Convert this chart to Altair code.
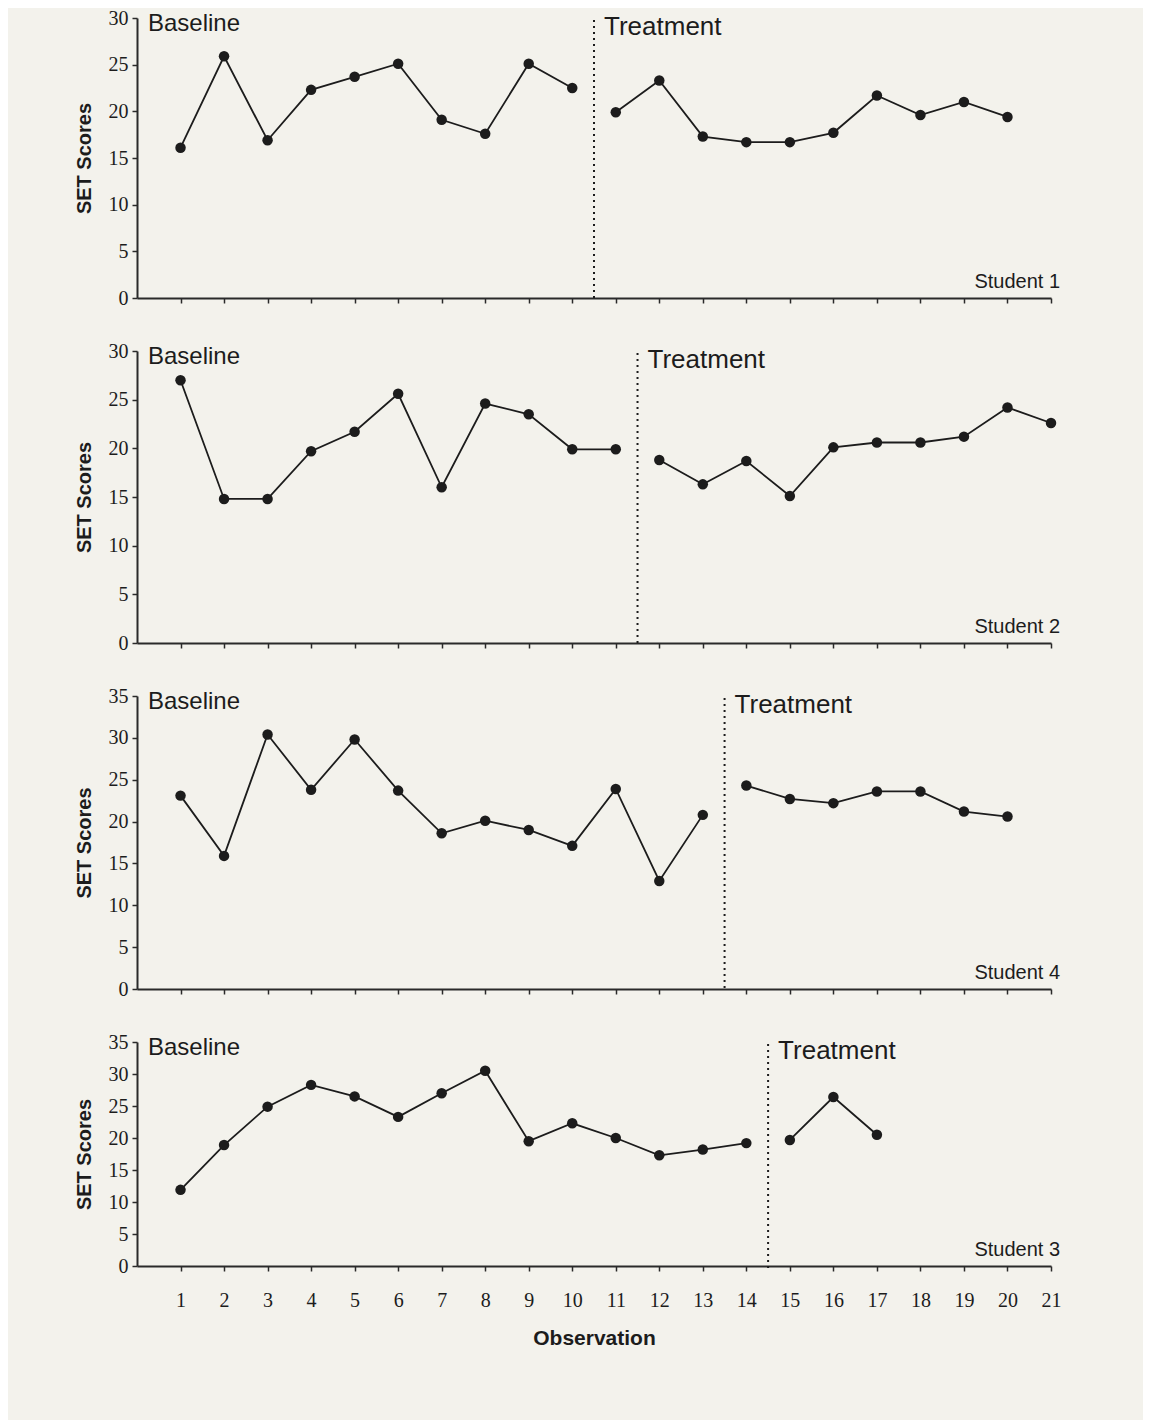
import altair as alt
import pandas as pd

# ---------------- data ----------------
obs_ticks = list(range(1, 22))

s1_base_obs = list(range(1, 11))
s1_base_val = [16.1, 25.9, 16.9, 22.3, 23.7, 25.1, 19.1, 17.6, 25.1, 22.5]
s1_treat_obs = list(range(11, 21))
s1_treat_val = [19.9, 23.3, 17.3, 16.7, 16.7, 17.7, 21.7, 19.6, 21.0, 19.4]

s2_base_obs = list(range(1, 12))
s2_base_val = [27.0, 14.8, 14.8, 19.7, 21.7, 25.6, 16.0, 24.6, 23.5, 19.9, 19.9]
s2_treat_obs = list(range(12, 22))
s2_treat_val = [18.8, 16.3, 18.7, 15.1, 20.1, 20.6, 20.6, 21.2, 24.2, 22.6]

s4_base_obs = list(range(1, 14))
s4_base_val = [23.1, 15.9, 30.4, 23.8, 29.8, 23.7, 18.6, 20.1, 19.0, 17.1, 23.9, 12.9, 20.8]
s4_treat_obs = list(range(14, 21))
s4_treat_val = [24.3, 22.7, 22.2, 23.6, 23.6, 21.2, 20.6]

s3_base_obs = list(range(1, 15))
s3_base_val = [11.9, 18.9, 24.9, 28.3, 26.5, 23.3, 27.0, 30.5, 19.5, 22.3, 20.0, 17.3, 18.2, 19.2]
s3_treat_obs = list(range(15, 18))
s3_treat_val = [19.7, 26.4, 20.5]

students = ["Student 1", "Student 2", "Student 4", "Student 3"]
phase_changes = [10.5, 11.5, 13.5, 14.5]
y_max = [30, 30, 35, 35]
panel_heights = [280, 292, 293, 224]
PANEL_W = 914

series = [
    (s1_base_obs, s1_base_val, s1_treat_obs, s1_treat_val),
    (s2_base_obs, s2_base_val, s2_treat_obs, s2_treat_val),
    (s4_base_obs, s4_base_val, s4_treat_obs, s4_treat_val),
    (s3_base_obs, s3_base_val, s3_treat_obs, s3_treat_val),
]

INK = "#1c1c1c"
SANS = "Liberation Sans"
SERIF = "Liberation Serif"


def make_df(bo, bv, to, tv):
    return pd.DataFrame({
        "obs": list(bo) + list(to),
        "score": list(bv) + list(tv),
        "phase": ["Baseline"] * len(bo) + ["Treatment"] * len(to),
    })


def panel(i, last):
    bo, bv, to, tv = series[i]
    df = make_df(bo, bv, to, tv)
    h = panel_heights[i]
    ym = y_max[i]
    xscale = alt.Scale(domain=[0, 21], nice=False, zero=False)
    yscale = alt.Scale(domain=[0, ym], nice=False)

    if last:
        xaxis = alt.Axis(values=obs_ticks, labelFont=SERIF, labelFontSize=20,
                         labelPadding=19, tickSize=5, titleFont=SANS,
                         titleFontSize=21, titleFontWeight="bold",
                         titlePadding=17, labelFlush=False, labelOverlap=False)
        xenc = alt.X("obs:Q", scale=xscale, axis=xaxis, title="Observation")
    else:
        xaxis = alt.Axis(values=obs_ticks, labels=False, tickSize=5)
        xenc = alt.X("obs:Q", scale=xscale, axis=xaxis, title=None)

    yaxis = alt.Axis(values=list(range(0, ym + 1, 5)), labelFont=SERIF,
                     labelFontSize=20, labelPadding=4, tickSize=5,
                     titleFont=SANS, titleFontSize=20, titleFontWeight="bold",
                     titlePadding=14, labelFlush=False, labelOverlap=False)
    yenc = alt.Y("score:Q", scale=yscale, axis=yaxis, title="SET Scores")

    base = alt.Chart(df).encode(x=xenc, y=yenc)
    lines = base.mark_line(color=INK, strokeWidth=1.8).encode(detail="phase:N")
    points = base.mark_point(filled=True, color=INK, size=110, opacity=1)

    rule = alt.Chart(pd.DataFrame({"p": [phase_changes[i]]})).mark_rule(
        color=INK, strokeWidth=2, strokeDash=[2, 4]).encode(
        x=alt.X("p:Q", scale=xscale, axis=xaxis), y=alt.value(2), y2=alt.value(h + 2))

    lbl = pd.DataFrame({"t": ["Baseline"]})
    baseline_txt = alt.Chart(lbl).mark_text(
        align="left", baseline="middle", font=SANS, fontSize=24, color=INK).encode(
        x=alt.value(11), y=alt.value(6), text="t:N")

    tr = pd.DataFrame({"t": ["Treatment"], "p": [phase_changes[i]]})
    treat_txt = alt.Chart(tr).mark_text(
        align="left", baseline="middle", font=SANS, fontSize=26, color=INK, dx=10).encode(
        x=alt.X("p:Q", scale=xscale, axis=xaxis), y=alt.value(9), text="t:N")

    st = pd.DataFrame({"t": [students[i]]})
    stud_txt = alt.Chart(st).mark_text(
        align="right", baseline="middle", font=SANS, fontSize=20, color=INK).encode(
        x=alt.value(PANEL_W + 9), y=alt.value(h - 16), text="t:N")

    return alt.layer(lines, points, rule, baseline_txt, treat_txt, stud_txt).properties(
        width=PANEL_W, height=h)


chart = alt.vconcat(*[panel(i, i == 3) for i in range(4)], spacing=33).properties(
    padding={"left": 66, "top": 0, "right": 82, "bottom": 72},
    background="#f3f2ec",
).configure_view(strokeWidth=0).configure_axis(
    grid=False, domainColor="#2a2a2a", domainWidth=2, tickColor="#2a2a2a",
    tickWidth=1.5, labelColor=INK, titleColor=INK)

chart.save("out.html", embed_options={"renderer": "svg", "actions": False})
